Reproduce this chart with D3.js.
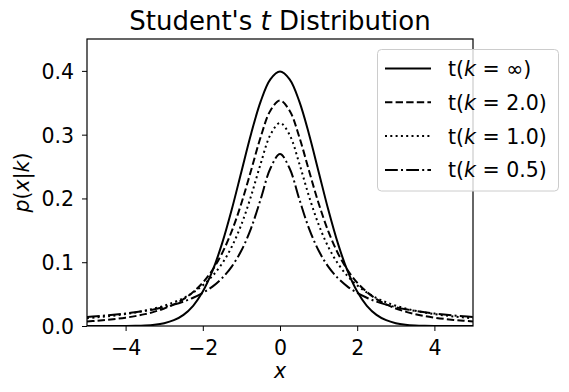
<!DOCTYPE html>
<html><head><meta charset="utf-8">
<script src="https://cdn.jsdelivr.net/npm/d3@7"></script>
<style>body{margin:0;background:#fff}svg text{font-family:"DejaVu Sans",sans-serif;fill:#000}</style>
</head><body>
<svg id="c" width="569" height="392"></svg>
<script>
const xs = [-5,-4.75,-4.5,-4.25,-4,-3.75,-3.5,-3.25,-3,-2.75,-2.5,-2.25,-2,-1.75,-1.5,-1.25,-1,-0.75,-0.5,-0.25,0,0.25,0.5,0.75,1,1.25,1.5,1.75,2,2.25,2.5,2.75,3,3.25,3.5,3.75,4,4.25,4.5,4.75,5];
const kInf = [0.0000015,0.000005,0.000016,0.00005,0.000134,0.00035,0.00087,0.00203,0.00443,0.0091,0.0175,0.0317,0.0540,0.0863,0.1295,0.1826,0.2420,0.3011,0.3521,0.3867,0.3989,0.3867,0.3521,0.3011,0.2420,0.1826,0.1295,0.0863,0.0540,0.0317,0.0175,0.0091,0.00443,0.00203,0.00087,0.00035,0.000134,0.00005,0.000016,0.000005,0.0000015];
const k2 = [0.00713,0.00821,0.00953,0.01113,0.01309,0.0155,0.0186,0.0225,0.0274,0.0338,0.0422,0.0533,0.0680,0.0878,0.1141,0.1487,0.1925,0.2438,0.2963,0.3376,0.3536,0.3376,0.2963,0.2438,0.1925,0.1487,0.1141,0.0878,0.0680,0.0533,0.0422,0.0338,0.0274,0.0225,0.0186,0.0155,0.01309,0.01113,0.00953,0.00821,0.00713];
const k1 = [0.0122,0.0135,0.0150,0.0167,0.0187,0.0211,0.0240,0.0275,0.0318,0.0372,0.0439,0.0525,0.0637,0.0784,0.0979,0.1242,0.1592,0.2037,0.2546,0.2996,0.3183,0.2996,0.2546,0.2037,0.1592,0.1242,0.0979,0.0784,0.0637,0.0525,0.0439,0.0372,0.0318,0.0275,0.0240,0.0211,0.0187,0.0167,0.0150,0.0135,0.0122];
const k05 = [0.0141,0.0152,0.0165,0.0179,0.0196,0.0215,0.0238,0.0264,0.0296,0.0335,0.0383,0.0443,0.0519,0.0618,0.0751,0.0932,0.1183,0.1532,0.1990,0.2469,0.2697,0.2469,0.1990,0.1532,0.1183,0.0932,0.0751,0.0618,0.0519,0.0443,0.0383,0.0335,0.0296,0.0264,0.0238,0.0215,0.0196,0.0179,0.0165,0.0152,0.0141];
const seriesNames = ["∞","2.0","1.0","0.5"];
const xTicks = [-4,-2,0,2,4];
const yTicks = [0,0.1,0.2,0.3,0.4];

const series = [
  {name: seriesNames[0], vals: kInf, dash: null},
  {name: seriesNames[1], vals: k2, dash: "7.4,3.2"},
  {name: seriesNames[2], vals: k1, dash: "2,3.3"},
  {name: seriesNames[3], vals: k05, dash: "12.8,3.2,2,3.2"}
];

const svg = d3.select("#c");
const L=87, R=473, T=39, B=326;
const FS = "20.5px";
const x = d3.scaleLinear().domain([-5,5]).range([L,R]);
const y = d3.scaleLinear().domain([0,0.45]).range([B,T]);

svg.append("defs").append("clipPath").attr("id","clip").append("rect")
  .attr("x",L).attr("y",T).attr("width",R-L).attr("height",B-T);

const line = d3.line().x((d,i)=>x(xs[i])).y(d=>y(d)).curve(d3.curveCatmullRom.alpha(0.5));
const g = svg.append("g").attr("clip-path","url(#clip)");
series.forEach(s=>{
  g.append("path").attr("d", line(s.vals)).attr("fill","none").attr("stroke","#000")
   .attr("stroke-width",2).attr("stroke-dasharray", s.dash);
});

// axes
const xa = svg.append("g").attr("transform",`translate(0,${B})`)
  .call(d3.axisBottom(x).tickValues(xTicks).tickSize(5).tickPadding(9).tickFormat(d=>d<0?"−"+Math.abs(d):d));
const ya = svg.append("g").attr("transform",`translate(${L},0)`)
  .call(d3.axisLeft(y).tickValues(yTicks).tickSize(5).tickPadding(8).tickFormat(d3.format(".1f")));
[xa,ya].forEach(a=>{a.select(".domain").remove();a.selectAll("line").attr("stroke","#000").attr("stroke-width",1);
  a.selectAll("text").style("font-family","DejaVu Sans").style("font-size",FS).attr("fill","#000");});
ya.selectAll("text").attr("dy","0.36em");

svg.append("rect").attr("x",L).attr("y",T).attr("width",R-L).attr("height",B-T)
  .attr("fill","none").attr("stroke","#000").attr("stroke-width",1.2);

// title
const tt = svg.append("text").attr("x",(L+R)/2).attr("y",30).attr("text-anchor","middle").style("font-size","26px");
tt.append("tspan").text("Student's ");
tt.append("tspan").style("font-style","italic").text("t");
tt.append("tspan").text(" Distribution");

// x label
svg.append("text").attr("x",(L+R)/2).attr("y",378).attr("text-anchor","middle")
  .style("font-size",FS).style("font-style","italic").text("x");
// y label
const yl = svg.append("text").attr("transform",`translate(29,${(T+B)/2}) rotate(-90)`)
  .attr("text-anchor","middle").style("font-size",FS);
yl.append("tspan").style("font-style","italic").text("p");
yl.append("tspan").text("(");
yl.append("tspan").style("font-style","italic").text("x");
yl.append("tspan").text("|");
yl.append("tspan").style("font-style","italic").text("k");
yl.append("tspan").text(")");

// legend
const lg = svg.append("g");
lg.append("rect").attr("x",377.5).attr("y",49.5).attr("width",181).attr("height",141.5).attr("rx",4)
  .attr("fill","#fff").attr("fill-opacity",0.8).attr("stroke","#ccc").attr("stroke-width",1);
series.forEach((s,i)=>{
  const cy = 68.5 + i*33.8;
  lg.append("line").attr("x1",385).attr("x2",431).attr("y1",cy).attr("y2",cy)
    .attr("stroke","#000").attr("stroke-width",2).attr("stroke-dasharray",s.dash);
  const t = lg.append("text").attr("x",448).attr("y",cy+7.5).style("font-size",FS);
  t.append("tspan").text("t(");
  t.append("tspan").style("font-style","italic").text("k");
  t.append("tspan").text(" = " + s.name + ")");
});
</script>
</body></html>
